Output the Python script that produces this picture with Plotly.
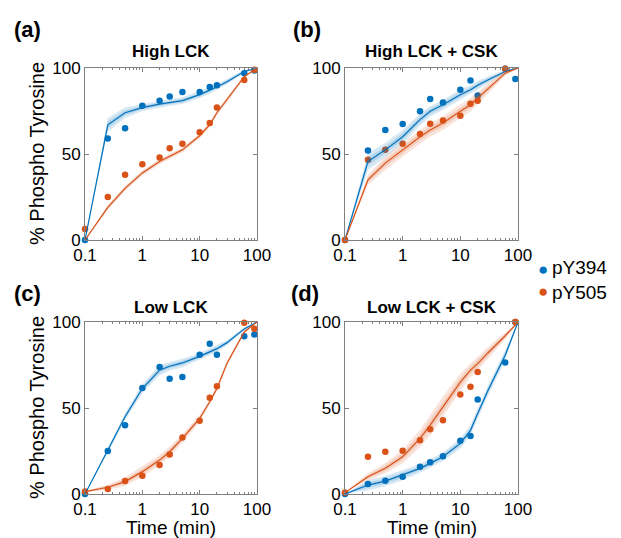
import plotly.graph_objects as go

# ---------------- data ----------------
T = [0.1, 0.25, 0.5, 1, 2, 3, 5, 10, 15, 20, 60, 90]
T_FIT = [0.1, 0.25, 0.5, 1, 2, 3, 5, 10, 15, 20, 30, 60, 100]

A_Y394 = [0, 59, 65, 78, 81, 83.5, 86, 86, 89, 90, 97, 98.6]
A_Y505 = [6.4, 25, 38, 44, 48, 53.4, 56, 62.7, 68, 77, 93, 99]
A_FIT394 = [0, 67, 74, 77, 79, 80, 81, 84.5, 87, 89, 92, 98, 100]
A_FIT505 = [0, 19, 30, 39, 45.6, 48.5, 52.4, 60.6, 67, 74, 81.5, 95, 100]
A_BAND394 = [0, 4, 3, 2, 2, 2, 2, 2, 2, 1.5, 1.5, 1, 0]
A_BAND505 = [0, 1.5, 1.5, 1.5, 1.5, 1.5, 1.5, 1.5, 1.5, 1.5, 1.5, 1, 0]

B_Y394 = [0, 52, 64, 67.4, 74.8, 82, 80, 87.4, 92.8, 84, 99.6, 93.6]
B_Y505 = [0, 46.6, 52.4, 56, 61.7, 67.6, 69.5, 72.2, 79.2, 81, 99.6, None]
B_FIT394 = [0, 45.6, 52.4, 60, 70, 74.8, 78.6, 84.5, 87.4, 90, 93, 98, 100]
B_FIT505 = [0, 35, 44.7, 52.4, 60, 64, 68, 74.8, 78.6, 82.5, 88, 97, 100]
B_BAND394 = [0, 5, 4, 4, 3.5, 3, 3, 3, 2.5, 2.5, 2, 1, 0]
B_BAND505 = [0, 3, 4, 4, 4, 4, 4, 4, 4, 3.5, 3, 1.5, 0]

C_Y394 = [0, 25, 40, 61.7, 73.9, 67, 68, 81, 87.4, 81, 91.7, 92.8]
C_Y505 = [1.4, 2.9, 7.5, 10.6, 16.8, 23, 32.9, 42.6, 55.9, 62.7, 99.6, 96.1]
C_FIT394 = [0, 25.5, 44.9, 61.3, 72, 74.3, 76.2, 80, 82.6, 84.5, 88, 96, 100]
C_FIT505 = [1.4, 3.9, 7.2, 13, 19.7, 24.6, 32.3, 43.9, 53.6, 61.3, 76, 94.2, 100]
C_BAND394 = [0, 1.5, 2, 2.5, 3, 2.5, 2.5, 2, 2, 2, 1.5, 1, 0]
C_BAND505 = [0.5, 1.5, 2.5, 3, 3, 3, 2.5, 2, 1.5, 1.5, 1.5, 1, 0]

D_Y394 = [0, 5.8, 7.7, 10, 15.9, 18.4, 22, 31, 33.7, 55, 76.4, 100]
D_Y505 = [0.8, 21.7, 24.6, 25.1, 31.3, 37.7, 42.9, 57.8, 62.3, 71, None, 100]
D_FIT394 = [0, 5.2, 7.5, 11, 14.9, 17.8, 21.7, 29.4, 37, 46.8, 60, 80.7, 100]
D_FIT505 = [0.8, 10, 15, 21.7, 32.3, 40, 50.7, 65, 72, 75.8, 82, 92, 100]
D_BAND394 = [0, 3, 3, 3, 2.5, 2.5, 2.5, 3, 3, 3, 3, 3, 0]
D_BAND505 = [0, 2, 3, 4, 5, 6, 6, 5, 4, 4, 3.5, 2, 0]

TITLES = ["High LCK", "High LCK + CSK", "Low LCK", "Low LCK + CSK"]
LETTERS = ["(a)", "(b)", "(c)", "(d)"]
SERIES = ["pY394", "pY505"]
X_TICKS = [0.1, 1, 10, 100]
X_TICKTEXT = ["0.1", "1", "10", "100"]
X_MINOR = [m * d for d in (0.1, 1, 10) for m in range(2, 10)]
Y_TICKS = [0, 50, 100]

# ---------------- style ----------------
BLUE = "#0072BD"
RED = "#D95319"
BLUE_FILL = "rgba(0,114,189,0.16)"
RED_FILL = "rgba(217,83,25,0.16)"
FONT = "Liberation Sans, Arial, sans-serif"
W, H = 621, 538

panels = [
    (A_Y394, A_Y505, A_FIT394, A_FIT505, A_BAND394, A_BAND505),
    (B_Y394, B_Y505, B_FIT394, B_FIT505, B_BAND394, B_BAND505),
    (C_Y394, C_Y505, C_FIT394, C_FIT505, C_BAND394, C_BAND505),
    (D_Y394, D_Y505, D_FIT394, D_FIT505, D_BAND394, D_BAND505),
]

# pixel boxes (left, right, top, bottom)
boxes = [(85, 257, 68, 240), (345, 518, 68, 240), (85, 257, 322, 494), (345, 518, 322, 494)]
letter_pos = [(12, 30), (291, 30), (12, 293), (289, 293)]
title_y = [52, 52, 307, 307]


def px_x(v):
    return v / W


def px_y(v):
    return 1 - v / H


fig = go.Figure()

for i, (p, box) in enumerate(zip(panels, boxes)):
    y394, y505, f394, f505, b394, b505 = p
    xa = "x" if i == 0 else f"x{i+1}"
    ya = "y" if i == 0 else f"y{i+1}"
    # markers
    for ys, col, name in [(y394, BLUE, SERIES[0]), (y505, RED, SERIES[1])]:
        fig.add_trace(go.Scatter(x=T, y=ys, mode="markers", name=name,
                                 marker=dict(color=col, size=6.5),
                                 showlegend=False, cliponaxis=False,
                                 xaxis=xa, yaxis=ya))
    # bands and fit lines
    for f, b, col, fill in [(f394, b394, BLUE, BLUE_FILL), (f505, b505, RED, RED_FILL)]:
        for scale in (1.0, 0.5):
            up = [v + s * scale for v, s in zip(f, b)]
            lo = [v - s * scale for v, s in zip(f, b)]
            fig.add_trace(go.Scatter(x=T_FIT + T_FIT[::-1], y=up + lo[::-1],
                                     mode="lines", fill="toself", fillcolor=fill,
                                     line=dict(width=0), hoverinfo="skip",
                                     showlegend=False, xaxis=xa, yaxis=ya))
        fig.add_trace(go.Scatter(x=T_FIT, y=f, mode="lines",
                                 line=dict(color=col, width=1.2),
                                 showlegend=False, xaxis=xa, yaxis=ya))

    l, r, t, btm = box
    axcommon = dict(showline=True, linecolor="#808080", linewidth=1, mirror="allticks",
                    ticks="inside", ticklen=4, tickcolor="#808080", tickwidth=1,
                    showgrid=False, zeroline=False, automargin=False,
                    tickfont=dict(family=FONT, size=17, color="black"))
    key = "" if i == 0 else str(i + 1)
    fig.update_layout(**{
        f"xaxis{key}": dict(type="log", range=[-1, 2], domain=[px_x(l), px_x(r)],
                            anchor=ya, tickvals=X_TICKS, ticktext=X_TICKTEXT,
                            minor=dict(ticks="inside", ticklen=2, tickcolor="#808080",
                                       tickwidth=1, tickvals=X_MINOR, showgrid=False),
                            **axcommon),
        f"yaxis{key}": dict(range=[0, 100], domain=[px_y(btm), px_y(t)],
                            anchor=xa, tickvals=Y_TICKS, **axcommon),
    })
    # panel title
    fig.add_annotation(text=f"<b>{TITLES[i]}</b>", xref="paper", yref="paper",
                       x=px_x((l + r) / 2), y=px_y(title_y[i]), xanchor="center",
                       yanchor="middle", showarrow=False,
                       font=dict(family=FONT, size=17, color="black"))
    # panel letter
    lx, ly = letter_pos[i]
    fig.add_annotation(text=f"<b>{LETTERS[i]}</b>", xref="paper", yref="paper",
                       x=px_x(lx), y=px_y(ly), xanchor="left", yanchor="middle",
                       showarrow=False, font=dict(family=FONT, size=22, color="black"))
    if i % 2 == 0:
        fig.add_annotation(text="% Phospho Tyrosine", xref="paper", yref="paper",
                           x=px_x(37), y=px_y((t + btm) / 2), textangle=-90,
                           xanchor="center", yanchor="middle",
                           showarrow=False, font=dict(family=FONT, size=20, color="black"))
    if i >= 2:
        fig.add_annotation(text="Time (min)", xref="paper", yref="paper",
                           x=px_x((l + r) / 2), y=px_y(527), xanchor="center",
                           yanchor="middle", showarrow=False,
                           font=dict(family=FONT, size=19, color="black"))

# legend (drawn as annotations for exact spacing)
LEG_Y = [269, 291]
fig.add_annotation(text="<br>".join(f'<span style="color:{c}">●</span>' for c in (BLUE, RED)),
                   xref="paper", yref="paper", x=px_x(543), y=px_y(sum(LEG_Y) / 2),
                   xanchor="center", yanchor="middle", showarrow=False,
                   font=dict(family=FONT, size=17, color="black"))
fig.add_annotation(text="<br>".join(SERIES), xref="paper", yref="paper",
                   x=px_x(550), y=px_y(sum(LEG_Y) / 2), xanchor="left", yanchor="middle",
                   align="left", showarrow=False,
                   font=dict(family=FONT, size=19, color="black"))

fig.update_layout(
    width=W, height=H, margin=dict(l=0, r=0, t=0, b=0, autoexpand=False),
    paper_bgcolor="white", plot_bgcolor="white", showlegend=False,
)

fig.write_html("out.html", config={"displayModeBar": False},
               post_script="document.body.style.margin='0';")
